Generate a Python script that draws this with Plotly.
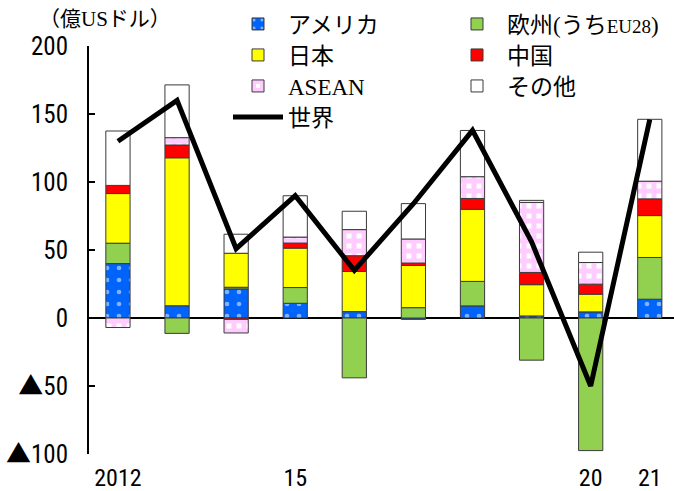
import plotly.graph_objects as go

years = [2012, 2013, 2014, 2015, 2016, 2017, 2018, 2019, 2020, 2021]
usa = [40, 9, 21.4, 10.8, 4.7, -1, 8.9, 1.5, 4.5, 13.8]
europe = [15, -11.3, 1.2, 11.6, -44, 7.6, 18, -31, -97.5, 30.7]
japan = [36.5, 108.8, 25, 29, 29.5, 31, 53, 23, 13, 30.8]
china = [6, 9.4, -1, 3.7, 11.6, 1.8, 8, 9, 7.4, 12.3]
asean = [-7, 5.4, -10, 4.4, 19.2, 17.7, 16, 51.5, 15.9, 13]
other = [40, 38.8, 14, 30.4, 13.5, 26, 34, 1.5, 7.6, 45.5]
world = [130, 160, 51, 90, 35, 84, 138, 56, -50, 146]

TRI = "<span style='font-family:Noto Sans CJK JP'>▲</span>"
x_tickvals = [2012, 2015, 2020, 2021]
x_ticktext = ["2012", "15", "20", "21"]
y_tickvals = [200, 150, 100, 50, 0, -50, -100]
y_ticktext = ["200", "150", "100", "50", "0", TRI + "50", TRI + "100"]

LEG_FONT = "Liberation Serif, Noto Sans CJK JP, serif"
TICK_FONT = "Liberation Sans Narrow, Arial Narrow, Roboto Condensed, Liberation Sans, sans-serif"
OUTLINE = dict(color="#3a3a3a", width=1)
BW = 0.41

fig = go.Figure()

series = [
    ("アメリカ", usa, "#0064FA", dict(shape=".", fgcolor="white", size=12, solidity=0.12), "legend"),
    ("欧州(うち<span style='font-size:19px'>EU28</span>)", europe, "#92D050", None, "legend"),
    ("日本", japan, "#FFFF00", None, "legend2"),
    ("中国", china, "#FF0000", None, "legend2"),
    ("ASEAN", asean, "white", dict(shape="+", fgcolor="#FF99FF", bgcolor="white", size=10, solidity=0.75), "legend3"),
    ("その他", other, "white", None, "legend3"),
]

for i, (name, vals, color, pat, leg) in enumerate(series):
    marker = dict(color=color, line=OUTLINE)
    if pat is not None:
        marker["pattern"] = pat
    fig.add_trace(go.Bar(
        x=years, y=vals, name=name, width=BW, marker=marker, legend=leg,
    ))

fig.add_trace(go.Scatter(
    x=years, y=world, name="世界", mode="lines",
    line=dict(color="black", width=5), legend="legend4",
))

leg_common = dict(
    orientation="h", font=dict(family=LEG_FONT, size=23, color="black"),
    bgcolor="rgba(0,0,0,0)", borderwidth=0,
    traceorder="normal", xanchor="left", yanchor="middle", itemwidth=50,
    entrywidth=154, entrywidthmode="pixels",
)

def ly(py):
    return (454 - py) / 408

LX = (228 - 89) / 585

fig.update_layout(
    width=674, height=491,
    margin=dict(l=89, r=0, t=46, b=37, autoexpand=False),
    paper_bgcolor="white", plot_bgcolor="white",
    barmode="relative",
    showlegend=True,
    legend=dict(x=LX, y=ly(24), **leg_common),
    legend2=dict(x=LX, y=ly(55), **leg_common),
    legend3=dict(x=LX, y=ly(86), **leg_common),
    legend4=dict(x=LX, y=ly(117), **leg_common),
    xaxis=dict(
        range=[2011.51, 2021.41], tickvals=x_tickvals, ticktext=x_ticktext,
        showline=False, showgrid=False, zeroline=False, ticks="",
        tickfont=dict(family=TICK_FONT, size=24, color="black"),
        ticklabelstandoff=7, automargin=False,
    ),
    yaxis=dict(
        range=[-100, 200], tickvals=y_tickvals, ticktext=y_ticktext,
        showline=True, linecolor="black", linewidth=2,
        ticks="inside", ticklen=6, tickwidth=2, tickcolor="black",
        showgrid=False, zeroline=True, zerolinecolor="black", zerolinewidth=2,
        tickfont=dict(family=TICK_FONT, size=25, color="black"),
        ticklabelstandoff=14, automargin=False,
    ),
    annotations=[dict(
        text="（億USドル）", xref="paper", yref="paper",
        x=(37 - 89) / 585, y=ly(19), xanchor="left", yanchor="middle",
        showarrow=False, font=dict(family=LEG_FONT, size=21, color="black"),
    )],
)

fig.write_html("out.html")
